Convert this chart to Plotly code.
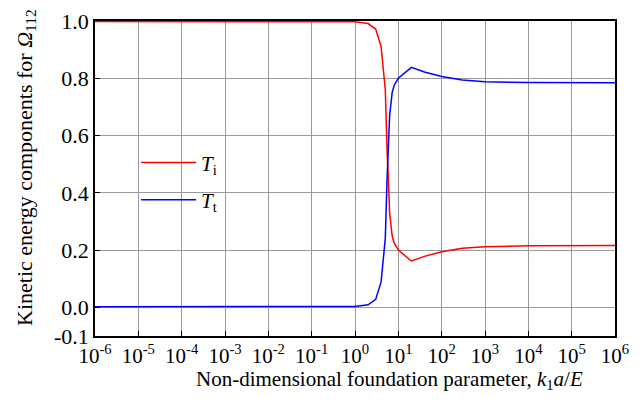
import plotly.graph_objects as go

# x values (k1 a / E), log-spaced readings
x_vals = [1e-6, 1e-5, 1e-4, 1e-3, 1e-2, 1e-1, 1.0, 2.0, 3.0, 4.0, 5.0, 5.5, 6.3, 7.2, 8.0, 10.0,
          20.0, 40.0, 100.0, 300.0, 1000.0, 1e4, 1e5, 1e6]
T_i = [0.998, 0.998, 0.998, 0.998, 0.998, 0.998, 0.997, 0.991, 0.972, 0.911, 0.76, 0.55, 0.33, 0.25, 0.225, 0.20,
       0.162, 0.178, 0.194, 0.206, 0.212, 0.215, 0.216, 0.216]
T_t = [0.002, 0.002, 0.002, 0.002, 0.002, 0.002, 0.003, 0.009, 0.028, 0.089, 0.24, 0.45, 0.67, 0.75, 0.775, 0.80,
       0.838, 0.822, 0.806, 0.794, 0.788, 0.785, 0.784, 0.784]

x_tickvals = [10.0 ** k for k in range(-6, 7)]
x_ticktext = ["10<sup>%d</sup>" % k for k in range(-6, 7)]
y_tickvals = [-0.1, 0.0, 0.2, 0.4, 0.6, 0.8, 1.0]
y_ticktext = ["-0.1", "0.0", "0.2", "0.4", "0.6", "0.8", "1.0"]

x_title = "Non-dimensional foundation parameter, <i>k</i><sub>1</sub><i>a</i>/<i>E</i>"
y_title = "Kinetic energy components for <i>Ω</i><sub>112</sub>"

font_family = "Liberation Serif, Times New Roman, serif"

fig = go.Figure()
fig.add_trace(go.Scatter(x=x_vals, y=T_i, mode="lines", name="<i>T</i><sub>i</sub>",
                         legendgroup="a", line=dict(color="#ff0000", width=1.5)))
fig.add_trace(go.Scatter(x=x_vals, y=T_t, mode="lines", name="<i>T</i><sub>t</sub>",
                         legendgroup="b", line=dict(color="#0000ff", width=1.5)))

# page body has an 8px default margin; figure size compensates for it
fig.update_layout(
    width=634, height=395,
    margin=dict(l=87, r=27, t=13, b=67),
    paper_bgcolor="white", plot_bgcolor="white",
    font=dict(family=font_family, size=20, color="black"),
    showlegend=True,
    legend=dict(x=0.079, y=0.615, xanchor="left", yanchor="top",
                bgcolor="rgba(0,0,0,0)", font=dict(size=21, family=font_family),
                tracegroupgap=7, itemwidth=55),
    xaxis=dict(
        type="log", range=[-6, 6], automargin=False,
        tickvals=x_tickvals, ticktext=x_ticktext,
        showgrid=True, gridcolor="#9a9a9a", gridwidth=1,
        showline=True, linecolor="black", linewidth=1.5, mirror=True,
        ticks="inside", ticklen=5, tickcolor="black",
        tickfont=dict(size=21, family=font_family),
        zeroline=False,
    ),
    yaxis=dict(
        range=[-0.1, 1.0], automargin=False,
        tickvals=y_tickvals, ticktext=y_ticktext,
        showgrid=True, gridcolor="#9a9a9a", gridwidth=1,
        showline=True, linecolor="black", linewidth=1.5, mirror=True,
        ticks="inside", ticklen=5, tickcolor="black",
        tickfont=dict(size=22, family=font_family),
        zeroline=False,
    ),
    annotations=[
        dict(text=x_title, xref="paper", yref="paper", x=0.567, y=-0.139,
             xanchor="center", yanchor="middle", showarrow=False,
             font=dict(size=21, family=font_family)),
        dict(text=y_title, xref="paper", yref="paper", x=-0.133, y=0.536,
             xanchor="center", yanchor="middle", showarrow=False, textangle=-90,
             font=dict(size=22, family=font_family)),
    ],
)

fig.write_html("out.html")
